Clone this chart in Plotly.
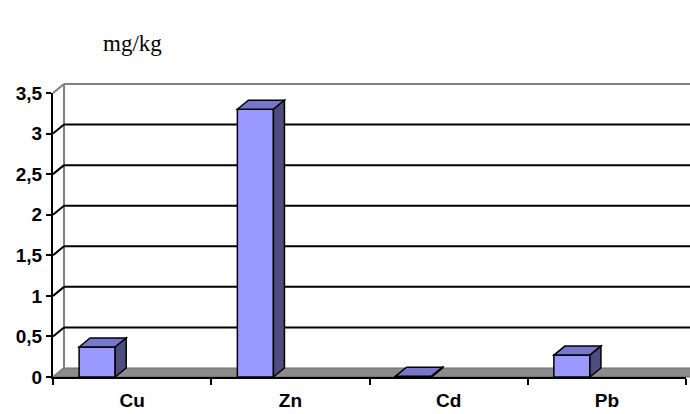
import plotly.graph_objects as go

categories = ["Cu", "Zn", "Cd", "Pb"]
values = [0.37, 3.30, 0.01, 0.27]
y_ticks = [0, 0.5, 1, 1.5, 2, 2.5, 3, 3.5]
y_tick_text = ["0", "0,5", "1", "1,5", "2", "2,5", "3", "3,5"]
unit_text = "mg/kg"

W, H = 690, 414
ML, MR, MT, MB = 53, 4, 93, 37
PW = W - ML - MR
PH = H - MT - MB
YMAX = 3.5
NCAT = len(categories)
DX, DY = 11, 9          # 3D depth offset in pixels
BAR_OFFSET = -0.335
BAR_WIDTH = 0.228

FRONT = "#9999FF"
TOP = "#7777CC"
SIDE = "#4D4D80"
FLOOR = "#8C8C8C"
WALL = "#808080"


def px(xd):
    return (xd + 0.5) / NCAT


def py(yd):
    return yd / YMAX


ddx = DX / PW
ddy = DY / PH

shapes = []

# floor
x0 = px(-0.5)
shapes.append(dict(type="path", xref="paper", yref="paper", layer="below",
                   path=f"M {x0},{py(0)} L {x0+ddx},{py(0)+ddy} L {1+ddx+0.05},{py(0)+ddy} L {1+0.05},{py(0)} Z",
                   fillcolor=FLOOR, line=dict(color="#6A6A6A", width=1)))
# back wall borders
shapes.append(dict(type="line", xref="paper", yref="paper", layer="below",
                   x0=x0+ddx, y0=py(0)+ddy, x1=x0+ddx, y1=py(YMAX)+ddy,
                   line=dict(color=WALL, width=2)))
shapes.append(dict(type="line", xref="paper", yref="paper", layer="below",
                   x0=x0+ddx, y0=py(YMAX)+ddy, x1=1.05, y1=py(YMAX)+ddy,
                   line=dict(color=WALL, width=2)))
# gridlines and side wall diagonals
for t in y_ticks:
    col = WALL if t in (0, YMAX) else "black"
    shapes.append(dict(type="line", xref="paper", yref="paper", layer="below",
                       x0=x0, y0=py(t), x1=x0+ddx, y1=py(t)+ddy,
                       line=dict(color=col, width=2)))
    if 0 < t < YMAX:
        shapes.append(dict(type="line", xref="paper", yref="paper", layer="below",
                           x0=x0+ddx, y0=py(t)+ddy, x1=1.05, y1=py(t)+ddy,
                           line=dict(color="black", width=2)))

# 3D bar faces
for i, v in enumerate(values):
    xl = px(i + BAR_OFFSET)
    xr = px(i + BAR_OFFSET + BAR_WIDTH)
    yt = py(v)
    shapes.append(dict(type="path", xref="paper", yref="paper", layer="above",
                       path=f"M {xl},{yt} L {xl+ddx},{yt+ddy} L {xr+ddx},{yt+ddy} L {xr},{yt} Z",
                       fillcolor=TOP, line=dict(color="black", width=1.5)))
    shapes.append(dict(type="path", xref="paper", yref="paper", layer="above",
                       path=f"M {xr},{yt} L {xr+ddx},{yt+ddy} L {xr+ddx},{py(0)+ddy} L {xr},{py(0)} Z",
                       fillcolor=SIDE, line=dict(color="black", width=1.5)))

fig = go.Figure(go.Bar(
    x=categories, y=values, offset=BAR_OFFSET, width=BAR_WIDTH,
    marker=dict(color=FRONT, line=dict(color="black", width=1.5)),
    showlegend=False, hoverinfo="skip"))

fig.update_layout(
    width=W, height=H,
    margin=dict(l=ML, r=MR, t=MT, b=MB, pad=0),
    paper_bgcolor="white", plot_bgcolor="white",
    shapes=shapes,
    font=dict(family="Liberation Sans, Arial, sans-serif", color="black"),
    xaxis=dict(type="category", range=[-0.5, NCAT - 0.5], showgrid=False, zeroline=False,
               showline=True, linecolor="black", linewidth=2,
               ticks="outside", tickson="boundaries", ticklen=6, tickwidth=2, tickcolor="black",
               ticklabelstandoff=5,
               tickfont=dict(size=19, family="Liberation Sans, Arial, sans-serif", weight="bold")),
    yaxis=dict(range=[0, YMAX], showgrid=False, zeroline=False,
               showline=True, linecolor="black", linewidth=2,
               tickvals=y_ticks, ticktext=y_tick_text,
               ticks="outside", ticklen=5, tickwidth=2, tickcolor="black",
               tickfont=dict(size=19, family="Liberation Sans, Arial, sans-serif", weight="bold")),
    annotations=[dict(text=unit_text, xref="paper", yref="paper",
                      x=(132 - ML) / PW, y=(H - MB - 44) / PH,
                      xanchor="center", yanchor="middle", showarrow=False,
                      font=dict(family="Liberation Serif, Times New Roman, serif", size=23, color="black"))],
)

fig.write_html("out.html")
